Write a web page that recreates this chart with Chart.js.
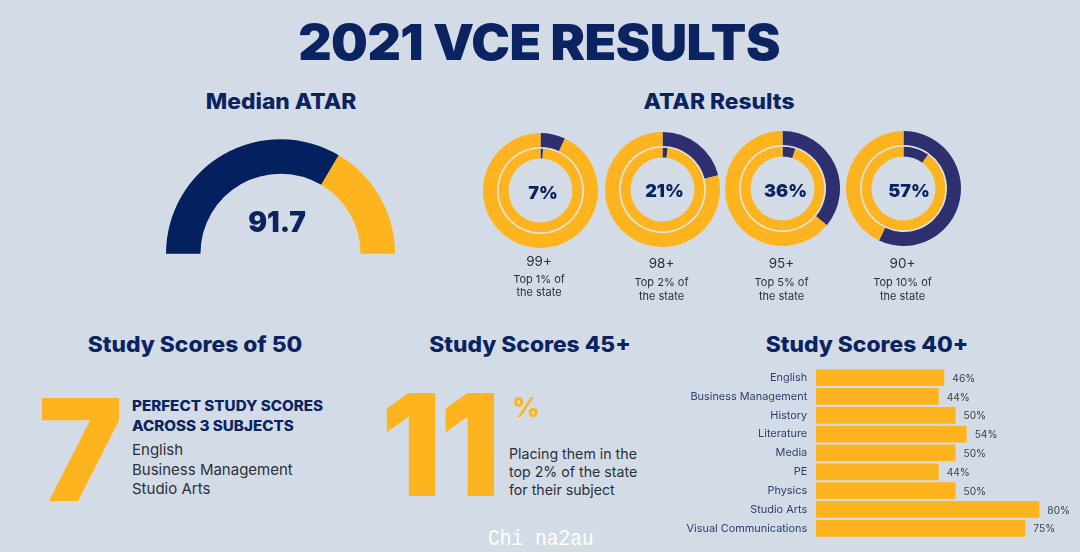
<!DOCTYPE html>
<html><head><meta charset="utf-8">
<script src="https://cdn.jsdelivr.net/npm/chart.js@4/dist/chart.umd.min.js"></script>
<style>
html,body{margin:0;padding:0;width:1080px;height:552px;overflow:hidden;background:#d3dce6;}
body{position:relative;font-family:Inter,sans-serif;}
canvas{position:absolute;display:block;}
.t{position:absolute;white-space:nowrap;line-height:1;transform:translate(-50%,-50%);color:#0b2461;}
.l{position:absolute;white-space:nowrap;line-height:1;transform:translateY(-50%);transform-origin:left center;}
.h{font-weight:800;font-size:21.5px;transform:translate(-50%,-50%) scaleX(1.06);}
.c{font-weight:900;font-size:18px;}
.k{font-size:13.5px;color:#2b3038;}
.s{font-size:11px;color:#2b3038;}
.b{font-weight:800;font-size:14px;color:#0b2461;transform:translateY(-50%) scaleX(1.085);}
.r{font-size:15px;color:#2b3038;}
.p{font-size:14.2px;color:#2b3038;}
</style></head><body>
<div class="t" style="left:539px;top:42px;font-size:49px;font-weight:900;letter-spacing:-.5px;transform:translate(-50%,-50%) scaleX(1.057)">2021 VCE RESULTS</div>
<div class="t h" style="left:280.5px;top:102px">Median ATAR</div>
<div class="t h" style="left:719px;top:102px">ATAR Results</div>
<div class="t h" style="left:195px;top:345px">Study Scores of 50</div>
<div class="t h" style="left:529.5px;top:345px">Study Scores 45+</div>
<div class="t h" style="left:867px;top:345px">Study Scores 40+</div>

<canvas id="gauge" style="left:166px;top:139px"></canvas>
<div class="t" id="gaugeLabel" style="left:277px;top:222px;font-size:28px;font-weight:900"></div>

<div id="rings"></div>

<div class="l" style="left:37.8px;top:449px;font-size:141px;font-weight:900;color:#fdb41e;transform:translateY(-50%) scaleX(1.014)">7</div>
<div class="l b" style="left:132px;top:405.5px">PERFECT STUDY SCORES</div>
<div class="l b" style="left:132px;top:425.5px">ACROSS 3 SUBJECTS</div>
<div class="l r" style="left:132px;top:449px">English</div>
<div class="l r" style="left:132px;top:469px">Business Management</div>
<div class="l r" style="left:132px;top:488px">Studio Arts</div>

<div class="l" style="left:380.5px;top:444px;font-size:141px;font-weight:900;color:#fdb41e;letter-spacing:-2px;transform:translateY(-50%) scaleX(.95)">11</div>
<div class="l" style="left:512px;top:407px;font-size:27px;font-weight:800;color:#fdb41e">%</div>
<div class="l p" style="left:509px;top:454px">Placing them in the</div>
<div class="l p" style="left:509px;top:472px">top 2% of the state</div>
<div class="l p" style="left:509px;top:490px">for their subject</div>

<canvas id="bars" style="left:670px;top:360px"></canvas>

<div class="t" style="left:540.5px;top:540px;color:#fff;font-family:'Liberation Mono',monospace;font-size:22px;transform:translate(-50%,-50%) scaleX(.89)">Chi na2au</div>

<script>
const gaugeLabel = "91.7";
const gaugeSegments = [67, 33];

const ringLabels = ["7%", "21%", "36%", "57%"];
const ringOuter = [7, 21, 36, 57];
const ringInner = [1, 2, 5, 10];
const ringBands = ["99+", "98+", "95+", "90+"];
const ringTop = ["Top 1% of", "Top 2% of", "Top 5% of", "Top 10% of"];

const subjects = ["English","Business Management","History","Literature","Media","PE","Physics","Studio Arts","Visual Communications"];
const subjectValues = [46,44,50,54,50,44,50,80,75];

const GOLD = "#fdb41e", NAVY = "#04205e", RING_NAVY = "#2d2f6e", SPACER = "#e2e2d6";
Chart.defaults.animation = false;
Chart.defaults.responsive = false;
Chart.defaults.maintainAspectRatio = false;
Chart.defaults.devicePixelRatio = 1;

document.getElementById("gaugeLabel").textContent = gaugeLabel;
function size(c,w,h){c.width=w;c.height=h;c.style.width=w+"px";c.style.height=h+"px";}

const g = document.getElementById("gauge"); size(g,229,115);
new Chart(g,{type:"doughnut",
  data:{labels:["Median","Remainder"],datasets:[{data:gaugeSegments,backgroundColor:[NAVY,GOLD],borderWidth:0}]},
  options:{rotation:-90,circumference:180,cutout:"69.9%",layout:{padding:0},plugins:{legend:{display:false},tooltip:{enabled:false}}}});

const ringGeom = [
  {cx:540,cy:190.5,lx:543,ly:193,ty:262,y1:279,y2:292},
  {cx:662.5,cy:189,lx:664.5,ly:191,ty:264,y1:282,y2:296},
  {cx:782.5,cy:188.5,lx:785.5,ly:191,ty:264,y1:282,y2:296},
  {cx:903.5,cy:188.5,lx:909,ly:191,ty:264,y1:282,y2:296}
];
const host = document.getElementById("rings");
ringLabels.forEach((lab,i)=>{
  const p = ringGeom[i], R = 57.5;
  const c = document.createElement("canvas");
  c.style.left=(p.cx-R)+"px"; c.style.top=(p.cy-R)+"px"; size(c,115,115); host.appendChild(c);
  new Chart(c,{type:"doughnut",
    data:{labels:["In band","Rest"],datasets:[
      {data:[ringOuter[i],100-ringOuter[i]],backgroundColor:[RING_NAVY,GOLD],borderWidth:0,weight:14},
      {data:[100],backgroundColor:[SPACER],borderWidth:0,weight:1.5},
      {data:[ringInner[i],100-ringInner[i]],backgroundColor:[RING_NAVY,GOLD],borderWidth:0,weight:10}
    ]},
    options:{cutout:"55.6%",layout:{padding:0},plugins:{legend:{display:false},tooltip:{enabled:false}}}});
  const add=(cls,txt,x,y)=>{const d=document.createElement("div");d.className="t "+cls;d.textContent=txt;d.style.left=x+"px";d.style.top=y+"px";host.appendChild(d);};
  add("c",lab,p.lx,p.ly);
  add("k",ringBands[i],p.cx-1,p.ty);
  add("s",ringTop[i],p.cx-1,p.y1);
  add("s","the state",p.cx-1,p.y2);
});

const valueLabels = {id:"valueLabels",afterDatasetsDraw(chart){
  const {ctx,scales:{x,y}}=chart;
  ctx.save();ctx.font="10.2px Inter, sans-serif";ctx.fillStyle="#3a3f47";ctx.textBaseline="middle";ctx.textAlign="left";
  subjectValues.forEach((v,i)=>ctx.fillText(v+"%",x.getPixelForValue(v)+8,y.getPixelForValue(i)+1));
  ctx.restore();
}};
const b = document.getElementById("bars"); size(b,410,192);
new Chart(b,{type:"bar",
  data:{labels:subjects,datasets:[{data:subjectValues,backgroundColor:GOLD,borderWidth:0,categoryPercentage:1,barPercentage:.89}]},
  options:{indexAxis:"y",layout:{padding:{top:8.2,bottom:14.3,left:0,right:12.7}},
    plugins:{legend:{display:false},tooltip:{enabled:false}},
    scales:{
      x:{display:false,min:0,max:90},
      y:{afterFit(a){a.width=145.7;a.paddingTop=0;a.paddingBottom=0;},grid:{display:false,drawTicks:false},border:{display:false},
         ticks:{autoSkip:false,padding:8.5,color:"#2f3d72",font:{family:"Inter, sans-serif",size:10.9}}}
    }},plugins:[valueLabels]});
</script>
</body></html>
